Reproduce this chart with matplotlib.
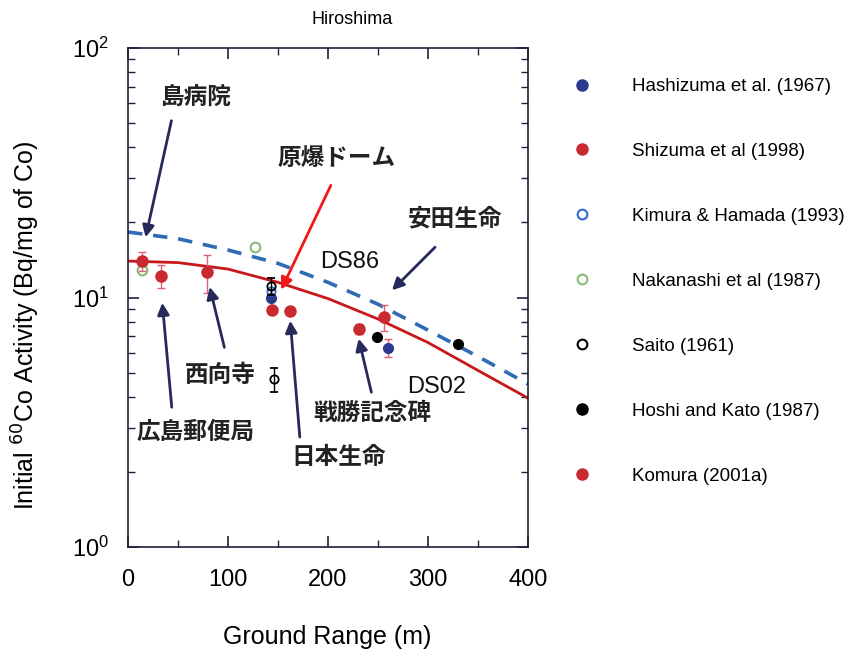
import matplotlib
matplotlib.use("Agg")
import matplotlib.pyplot as plt
from matplotlib.lines import Line2D

plt.rcParams['font.family'] = ['Liberation Sans', 'Noto Sans CJK JP', 'DejaVu Sans']

# ---- data ----
# model curves (ground range m, activity Bq/mg Co)
ds02_x = [0, 50, 100, 150, 200, 250, 300, 350, 400]
ds02_y = [14.0, 13.8, 13.0, 11.5, 9.9, 8.2, 6.6, 5.1, 3.95]
ds86_x = [0, 50, 100, 150, 200, 250, 300, 350, 400]
ds86_y = [18.3, 17.2, 15.5, 13.7, 11.5, 9.4, 7.4, 5.8, 4.5]

hashizuma_x = [143, 260]
hashizuma_y = [10.0, 6.3]
hashizuma_err = [0.8, 0.5]

shizuma_x = [14, 79, 256]
shizuma_y = [14.0, 12.6, 8.35]
shizuma_err = [1.2, 2.2, 1.0]

kimura_x = [143]
kimura_y = [10.6]

nakanashi_x = [14, 127]
nakanashi_y = [12.9, 16.0]

saito_x = [143, 146]
saito_y = [11.1, 4.7]
saito_err = [0.9, 0.5]

hoshi_x = [249, 330]
hoshi_y = [6.95, 6.5]

komura_x = [33, 144, 162, 231]
komura_y = [12.2, 8.9, 8.8, 7.5]
komura_err = [1.3, 0.0, 0.0, 0.35]

legend_labels = ["Hashizuma et al. (1967)", "Shizuma et al (1998)", "Kimura & Hamada (1993)",
                 "Nakanashi et al (1987)", "Saito (1961)", "Hoshi and Kato (1987)", "Komura (2001a)"]

# annotations: label, text position, arrow start, arrow target, arrow colour
ann_labels = ["島病院", "原爆ドーム", "安田生命", "西向寺", "広島郵便局", "戦勝記念碑", "日本生命"]
ann_text_pos = [(68, 63.6), (209, 36.2), (327, 20.8), (92, 4.89), (68, 2.89), (244, 3.44), (211, 2.30)]
ann_start = [(44, 52.4), (204, 28.8), (309, 16.2), (97, 6.16), (44, 3.54), (244, 4.07), (172, 2.69)]
ann_target = [(17, 17.0), (152, 10.5), (262, 10.5), (81, 11.3), (34, 9.77), (230, 7.01), (162, 8.28)]
ann_colors = ["#262a5a", "#f01818", "#262a5a", "#262a5a", "#262a5a", "#262a5a", "#262a5a"]

curve_labels = ["DS86", "DS02"]
curve_label_pos = [(222, 13.9), (309, 4.38)]

# ---- figure ----
fig = plt.figure(figsize=(8.5, 6.53), dpi=100)
ax = fig.add_axes([0.1506, 0.1623, 0.4706, 0.7642])

ax.plot(ds02_x, ds02_y, color="#c8181c", lw=2.0, zorder=2)
ax.plot(ds86_x, ds86_y, color="#2f6ab4", lw=2.6, ls=(0, (4, 3)), zorder=2)

errc = "#e0607a"
c_hash, c_red, c_kim, c_nak = "#2b3a8c", "#c82a30", "#2f6ad0", "#88bb77"
ax.errorbar(hashizuma_x, hashizuma_y, yerr=hashizuma_err, fmt='o', color=c_hash, ecolor=errc,
            ms=7, capsize=3, elinewidth=1, zorder=4)
ax.errorbar(shizuma_x, shizuma_y, yerr=shizuma_err, fmt='o', color=c_red, ecolor=errc,
            ms=8, capsize=3, elinewidth=1, zorder=4)
ax.plot(kimura_x, kimura_y, 'o', mfc='none', mec=c_kim, mew=1.3, ms=6, zorder=5)
ax.plot(nakanashi_x, nakanashi_y, 'o', mfc='none', mec=c_nak, mew=1.5, ms=7, zorder=3)
ax.errorbar(saito_x, saito_y, yerr=saito_err, fmt='o', mfc='none', mec="black", color="black",
            ecolor="black", ms=6, mew=1.3, capsize=3, elinewidth=1, zorder=5)
ax.plot(hoshi_x, hoshi_y, 'o', color="black", ms=7, zorder=4)
ax.errorbar(komura_x, komura_y, yerr=komura_err, fmt='o', color=c_red, ecolor=errc,
            ms=8, capsize=3, elinewidth=1, zorder=4)

ax.set_yscale('log')
ax.set_xlim(0, 400)
ax.set_ylim(1, 100)
ax.set_xticks([0, 100, 200, 300, 400])
ax.set_xticks([50, 150, 250, 350], minor=True)
ax.tick_params(which='both', direction='in', top=True, right=True, labelsize=17, color="#20203a")
ax.tick_params(which='major', length=8, width=1.2)
ax.tick_params(which='minor', length=5, width=1.0)
ax.tick_params(axis='x', pad=16)
ax.tick_params(axis='y', pad=14)
for s in ax.spines.values():
    s.set_color("#20203a")
    s.set_linewidth(1.2)

fig.text(352 / 850, 1 - 20 / 653, "Hiroshima", fontsize=13, ha='center', va='center')
ax.set_xlabel("Ground Range (m)", fontsize=18)
ax.xaxis.set_label_coords(0.4975, -0.156)
ax.set_ylabel("Initial $^{60}$Co Activity (Bq/mg of Co)", fontsize=18)
ax.yaxis.set_label_coords(-0.215, 0.445)

for txt, tpos, start, target, col in zip(ann_labels, ann_text_pos, ann_start, ann_target, ann_colors):
    ax.text(tpos[0], tpos[1], txt, fontsize=17, fontweight='bold', ha='center', va='center',
            family=['Noto Sans CJK JP', 'DejaVu Sans'], color="#222222", zorder=6)
    ax.annotate("", xy=target, xytext=start,
                arrowprops=dict(arrowstyle="-|>,head_length=0.7,head_width=0.35", color=col, lw=2.0),
                zorder=6)

for txt, pos in zip(curve_labels, curve_label_pos):
    ax.text(pos[0], pos[1], txt, fontsize=17, ha='center', va='center', color="#111111", zorder=6)

handles = [
    Line2D([], [], ls='none', marker='o', color=c_hash, ms=8),
    Line2D([], [], ls='none', marker='o', color=c_red, ms=8),
    Line2D([], [], ls='none', marker='o', mfc='none', mec=c_kim, mew=1.5, ms=7),
    Line2D([], [], ls='none', marker='o', mfc='none', mec=c_nak, mew=1.5, ms=7),
    Line2D([], [], ls='none', marker='o', mfc='none', mec='black', mew=1.5, ms=7),
    Line2D([], [], ls='none', marker='o', color='black', ms=8),
    Line2D([], [], ls='none', marker='o', color=c_red, ms=8),
]
leg = ax.legend(handles, legend_labels, loc='upper left', bbox_to_anchor=(1.0925, 0.955), frameon=False,
                fontsize=13.5, labelspacing=2.55, handlelength=1.0, handletextpad=2.15, borderaxespad=0)

fig.savefig("out.png", dpi=100)
